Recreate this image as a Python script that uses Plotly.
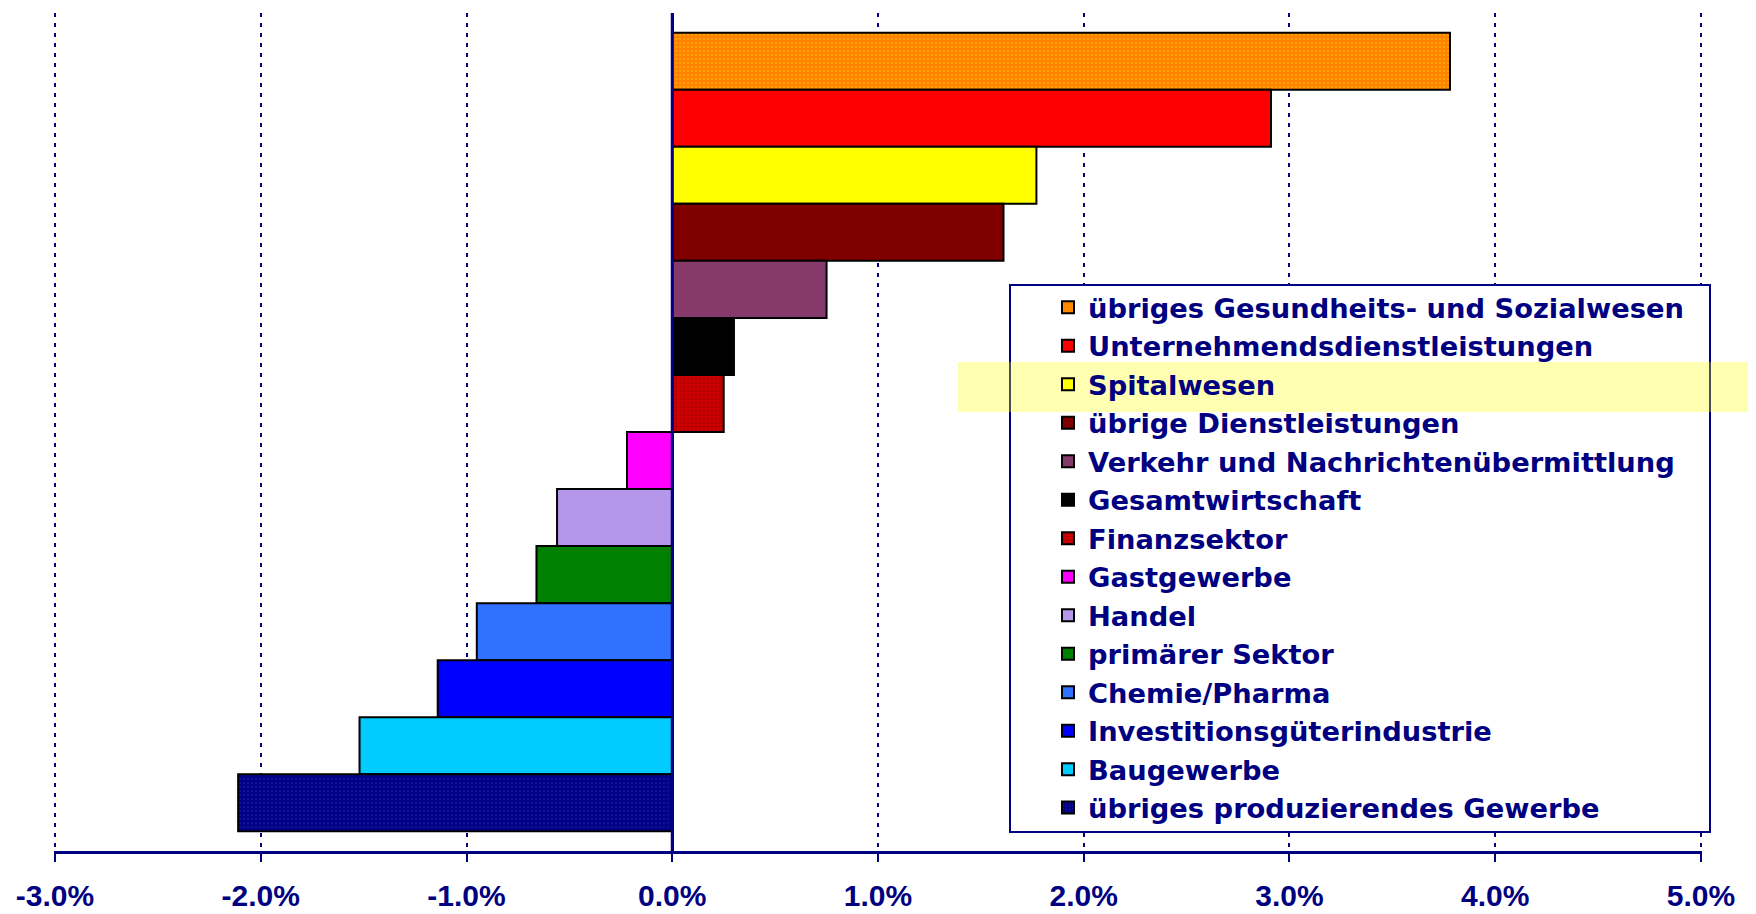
import plotly.graph_objects as go

categories = [
    "übriges Gesundheits- und Sozialwesen",
    "Unternehmendsdienstleistungen",
    "Spitalwesen",
    "übrige Dienstleistungen",
    "Verkehr und Nachrichtenübermittlung",
    "Gesamtwirtschaft",
    "Finanzsektor",
    "Gastgewerbe",
    "Handel",
    "primärer Sektor",
    "Chemie/Pharma",
    "Investitionsgüterindustrie",
    "Baugewerbe",
    "übriges produzierendes Gewerbe",
]
values = [3.78, 2.91, 1.77, 1.61, 0.75, 0.30, 0.25, -0.22, -0.56, -0.66, -0.95, -1.14, -1.52, -2.11]
colors = ["#FF8000", "#FF0000", "#FFFF00", "#800000", "#853A6B", "#000000", "#CC0000",
          "#FF00FF", "#B497EA", "#008000", "#3072FF", "#0000FF", "#00CCFF", "#000080"]
patterns = [("#FFC000", 0.35), None, None, None, None, None, ("#990000", 0.35),
            None, None, None, None, None, None, ("#2020C0", 0.3)]
x_ticks = [-3, -2, -1, 0, 1, 2, 3, 4, 5]

NAVY = "#000080"
W, H = 1748, 906
ML, MR, MT, MB = 46, 54, 5, 63
PW, PH = W - ML - MR, H - MT - MB

def px_x(p):
    return (p - ML) / PW

def px_y(p):
    return (H - MB - p) / PH

fig = go.Figure()
for cat, val, col, pat in zip(categories, values, colors, patterns):
    marker = dict(color=col, line=dict(color="#000000", width=2))
    if pat is not None:
        marker["pattern"] = dict(shape=".", fgcolor=pat[0], bgcolor=col, size=4, solidity=pat[1])
    fig.add_trace(go.Bar(
        x=[val], y=[cat], orientation="h", name=cat, width=1,
        marker=marker, showlegend=True,
    ))

n = len(categories)
pad = 0.345
fig.update_layout(
    width=W, height=H,
    margin=dict(l=ML, r=MR, t=MT, b=MB, autoexpand=False),
    paper_bgcolor="white", plot_bgcolor="white",
    barmode="overlay",
    showlegend=True,
    legend=dict(
        x=px_x(1010), y=px_y(275), xanchor="left", yanchor="top",
        bgcolor="rgba(0,0,0,0)", borderwidth=0,
        font=dict(family="DejaVu Sans", size=27.3, color=NAVY, weight="bold"),
        traceorder="normal", indentation=30,
    ),
    xaxis=dict(
        range=[-3.005, 5.005], tickvals=x_ticks,
        ticktext=[f"{v:.1f}%" for v in x_ticks],
        showgrid=True, gridcolor=NAVY, gridwidth=2, griddash="4px,6px",
        zeroline=True, zerolinecolor=NAVY, zerolinewidth=3,
        showline=True, linecolor=NAVY, linewidth=3,
        ticks="outside", ticklen=8, tickwidth=2, tickcolor=NAVY,
        tickfont=dict(family="Liberation Sans, Arial", size=30, color=NAVY, weight="bold"),
        ticklabelstandoff=8,
        fixedrange=True,
    ),
    yaxis=dict(
        type="category", categoryorder="array", categoryarray=categories,
        range=[n - 1 + 0.5 + pad, -0.5 - pad],
        showticklabels=False, showgrid=False, zeroline=False, showline=False,
        ticks="", fixedrange=True,
    ),
    shapes=[
        dict(type="line", xref="x", yref="paper", x0=0, x1=0, y0=0, y1=1,
             line=dict(color=NAVY, width=3), layer="above"),
        dict(type="rect", xref="paper", yref="paper",
             x0=px_x(1002), x1=px_x(1702), y0=px_y(824), y1=px_y(277),
             fillcolor="white", line=dict(color=NAVY, width=2), layer="above"),
        dict(type="rect", xref="paper", yref="paper",
             x0=px_x(950), x1=px_x(1748), y0=px_y(404), y1=px_y(354),
             fillcolor="rgba(255,255,0,0.3)", line=dict(width=0), layer="above"),
    ],
)

fig.write_html("out.html")
